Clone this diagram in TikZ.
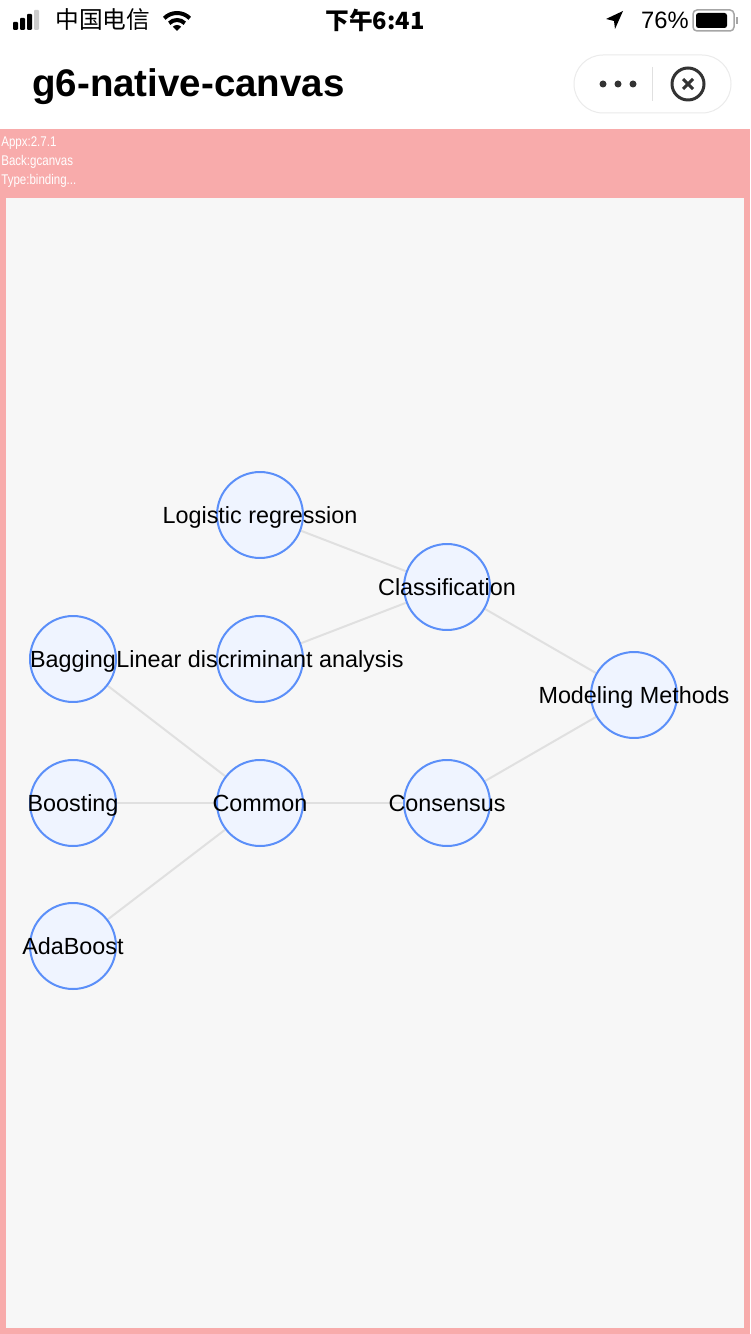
\documentclass[tikz,border=0pt]{standalone}
\usepackage{fontspec}
\setmainfont{Liberation Sans}
\newfontfamily\cjk{Noto Sans CJK SC}
\newfontfamily\narrowfont[FakeStretch=0.82]{Liberation Sans}

\definecolor{pinkbg}{HTML}{F8ABAB}
\definecolor{canvasbg}{HTML}{F7F7F7}
\definecolor{nodefill}{HTML}{EFF4FF}
\definecolor{nodeline}{HTML}{5B8FF9}
\definecolor{edgeline}{HTML}{E0E0E0}
\definecolor{iconline}{HTML}{333333}

\pgfdeclarelayer{back}
\pgfsetlayers{back,main}

\tikzset{
    gnode/.style={circle, draw=nodeline, fill=nodefill, line width=0.04cm,
            minimum size=1.72cm, inner sep=0pt},
    lbl/.style={font=\fontsize{13.3}{15}\selectfont, inner sep=0pt,
            text height=0.72em, text depth=0pt, yshift=-0.05cm},
    edge/.style={draw=edgeline, line width=0.04cm},
    bar/.style={rounded corners=0.02cm},
    debug/.style={anchor=west, inner sep=0pt, text=white,
            font=\narrowfont\fontsize{8}{9}\selectfont}
}

\begin{document}
\begin{tikzpicture}[x=0.02cm, y=-0.02cm]
    % Screen, header and canvas
    \begin{pgfonlayer}{back}
        \fill[white] (0,0) rectangle (750,1334);
        \fill[pinkbg] (0,129) rectangle (750,1334);
        \fill[canvasbg] (6,198) rectangle (744,1328);
    \end{pgfonlayer}

    % Status bar
    \fill[bar] (13,22) rectangle (18,30);
    \fill[bar] (20,18) rectangle (25,30);
    \fill[bar] (27,14) rectangle (32,30);
    \fill[bar, black!20] (34,10) rectangle (39,30);
    \node[anchor=west, inner sep=0pt, font=\cjk\fontsize{13.5}{15}\selectfont] (carrier) at (55,20) {中国电信};
    \fill (177,31) -- ++(45:0.12cm) arc[start angle=45, end angle=135, radius=0.12cm] -- cycle;
    \draw[line width=0.08cm] (177,31) ++(45:0.22cm) arc[start angle=45, end angle=135, radius=0.22cm];
    \draw[line width=0.08cm] (177,31) ++(45:0.36cm) arc[start angle=45, end angle=135, radius=0.36cm];
    \node[inner sep=0pt, font=\cjk\bfseries\fontsize{13.5}{15}\selectfont] (clock) at (375,20) {下午6:41};
    \fill (623,11) -- (606,19) -- (614,21) -- (615,29) -- cycle;
    \node[anchor=east, inner sep=0pt, font=\fontsize{13.5}{15}\selectfont] (battery) at (689,20) {76\%};
    \draw[black!35, line width=0.03cm, rounded corners=0.08cm] (693,10) rectangle (734,31);
    \fill[rounded corners=0.05cm] (696,13) rectangle (727,28);
    \fill[black!35] (736,17) rectangle (738,24);

    % Title and capsule
    \node[anchor=base west, inner sep=0pt, font=\bfseries\fontsize{21.9}{24}\selectfont] (title) at (32,97) {g6-native-canvas};
    \draw[black!8, fill=white, line width=0.02cm, rounded corners=0.58cm] (574,55) rectangle (731,113);
    \foreach \x in {603, 618, 633} {
            \fill[iconline] (\x,84) circle (0.07cm);
        }
    \draw[black!12, line width=0.02cm] (652,67) -- (652,101);
    \draw[iconline, line width=0.06cm] (688,84) circle (0.32cm);
    \draw[iconline, line width=0.06cm] (683,79) -- (693,89) (693,79) -- (683,89);

    % Debug text
    \node[debug] (appx) at (1,143) {Appx:2.7.1};
    \node[debug] (back) at (1,162) {Back:gcanvas};
    \node[debug] (type) at (1,181) {Type:binding...};

    % Graph nodes
    \node[gnode, label={[lbl]center:Logistic regression}] (logreg) at (260,515) {};
    \node[gnode, label={[lbl]center:Classification}] (classif) at (447,587) {};
    \node[gnode, label={[lbl]center:Bagging}] (bagging) at (73,659) {};
    \node[gnode, label={[lbl]center:Linear discriminant analysis}] (lda) at (260,659) {};
    \node[gnode, label={[lbl]center:Modeling Methods}] (modeling) at (634,695) {};
    \node[gnode, label={[lbl]center:Boosting}] (boosting) at (73,803) {};
    \node[gnode, label={[lbl]center:Common}] (common) at (260,803) {};
    \node[gnode, label={[lbl]center:Consensus}] (consensus) at (447,803) {};
    \node[gnode, label={[lbl]center:AdaBoost}] (adaboost) at (73,946) {};

    % Edges under the nodes
    \begin{pgfonlayer}{back}
        \foreach \a/\b in {logreg/classif, lda/classif, classif/modeling,
                consensus/modeling, common/consensus, bagging/common,
                boosting/common, adaboost/common} {
                \draw[edge] (\a) -- (\b);
            }
    \end{pgfonlayer}
\end{tikzpicture}
\end{document}
